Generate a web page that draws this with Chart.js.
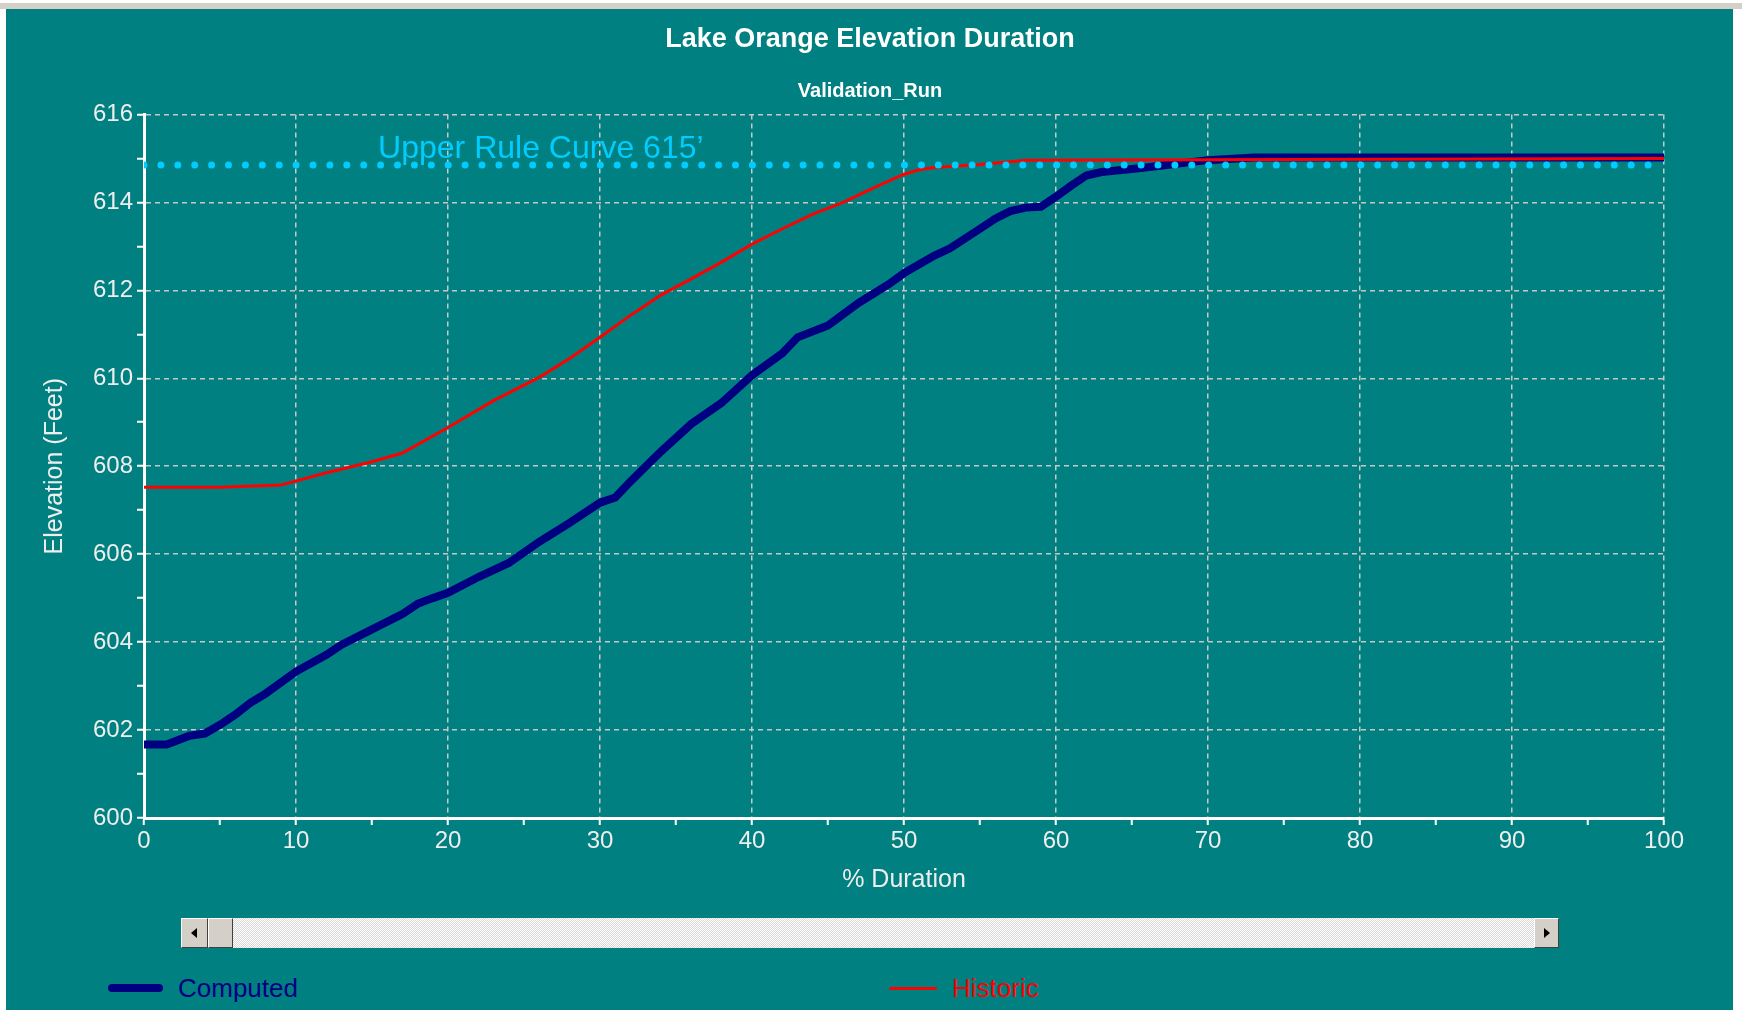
<!DOCTYPE html>
<html>
<head>
<meta charset="utf-8">
<script src="https://cdn.jsdelivr.net/npm/chart.js@4/dist/chart.umd.min.js"></script>
<style>
  body { margin: 0; background: #fff; }
  #frame { position: relative; width: 1742px; height: 1010px; background: #fff; overflow: hidden; font-family: "Liberation Sans", Arial, sans-serif; }
  #topbar { position: absolute; left: 0; top: 3px; width: 1742px; height: 6px; background: #d4d0c8; }
  #panel { position: absolute; left: 6px; top: 9px; width: 1727px; height: 1001px; background: #008080; }
  #wrap { position: absolute; left: 0; top: 0; width: 1742px; height: 910px; }
  #scroll { position: absolute; left: 181px; top: 918px; width: 1378px; height: 30px;
    background-color: #f4f4f4;
    background-image: repeating-conic-gradient(#ffffff 0 25%, #d8d8d8 0 50%);
    background-size: 2px 2px; }
  .btn { position: absolute; top: 0; height: 28px; background: #d4d0c8;
    border-top: 1px solid #fff; border-left: 1px solid #fff; border-right: 1px solid #404040; border-bottom: 1px solid #404040; box-sizing: content-box; }
  .arrow { position: absolute; top: 9px; width: 0; height: 0; border-top: 5px solid transparent; border-bottom: 5px solid transparent; }
  #legend { position: absolute; left: 0; top: 970px; width: 1742px; height: 36px; }
  .item { position: absolute; top: 0; height: 36px; display: flex; align-items: center; font-size: 26px; }
  .sw { display: inline-block; margin-right: 15px; }
</style>
</head>
<body>
<div id="frame">
  <div id="topbar"></div>
  <div id="panel"></div>
  <div id="wrap"><canvas id="duration-chart"></canvas></div>
  <div id="scroll">
    <div class="btn" style="left:0;width:25px;"><div class="arrow" style="left:9px;border-right:6px solid #000;"></div></div>
    <div class="btn" style="left:27px;width:23px;"></div>
    <div class="btn" style="right:0;width:23px;"><div class="arrow" style="left:9px;border-left:6px solid #000;"></div></div>
  </div>
  <div id="legend"></div>
</div>
<script>
// % duration / elevation
var durComputed = [0, 1.5, 3, 4, 5, 6, 7, 8, 10, 12, 13, 15, 17, 18, 19, 20, 22, 24, 26, 28,
  30, 31, 32, 34, 36, 38, 40, 42, 43, 45, 47, 49, 50, 52, 53, 55, 56, 57, 58, 59,
  60, 61, 62, 63, 65, 67, 69, 70, 73, 100];
var elevComputed = [601.67, 601.67, 601.87, 601.92, 602.12, 602.35, 602.62, 602.83, 603.33, 603.71,
  603.94, 604.29, 604.64, 604.87, 605.0, 605.12, 605.48, 605.80, 606.28, 606.71,
  607.17, 607.29, 607.65, 608.33, 608.96, 609.44, 610.07, 610.57, 610.93, 611.2,
  611.71, 612.14, 612.39, 612.79, 612.95, 613.4, 613.63, 613.8, 613.88, 613.9,
  614.13, 614.38, 614.61, 614.69, 614.76, 614.84, 614.92, 614.96, 615.02, 615.02];

var durHistoric = [0, 5, 9, 12, 15, 17, 20, 23, 26, 28, 30, 32, 34, 36, 38, 40, 42, 44, 46, 48,
  50, 51, 52, 55, 58, 100];
var elevHistoric = [607.52, 607.52, 607.57, 607.85, 608.1, 608.3, 608.88, 609.49, 610.02, 610.45,
  610.93, 611.43, 611.89, 612.26, 612.64, 613.05, 613.40, 613.73, 614.0, 614.33,
  614.64, 614.74, 614.79, 614.86, 614.96, 615.0];

var ruleDur = [0, 100];
var ruleElev = [614.85, 614.85];
var ruleText = "Upper Rule Curve 615\u2019";
var ruleTextAt = [15.4, 615.22];

var legendNames = ["Computed", "Historic"];

function pts(xs, ys) {
  return xs.map(function (x, i) { return {x: x, y: ys[i]}; });
}

var ruleLabel = {
  id: 'ruleLabel',
  afterDatasetsDraw: function (chart) {
    var ctx = chart.ctx;
    var x = chart.scales.x.getPixelForValue(ruleTextAt[0]);
    var y = chart.scales.y.getPixelForValue(ruleTextAt[1]);
    ctx.save();
    ctx.font = '32px "Liberation Sans", Arial, sans-serif';
    ctx.fillStyle = '#00ccff';
    ctx.textAlign = 'left';
    ctx.textBaseline = 'middle';
    ctx.fillText(ruleText, x, y);
    ctx.restore();
  }
};

var font = '"Liberation Sans", Arial, sans-serif';
var gridCol = '#c8c8c8';

var chart = new Chart(document.getElementById("duration-chart"), {
  type: 'line',
  data: {
    datasets: [{
      label: legendNames[0],
      data: pts(durComputed, elevComputed),
      borderColor: '#000080',
      backgroundColor: '#000080',
      borderWidth: 8,
      order: 3
    }, {
      label: legendNames[1],
      data: pts(durHistoric, elevHistoric),
      borderColor: '#ff0000',
      backgroundColor: '#ff0000',
      borderWidth: 3,
      order: 2
    }, {
      label: 'Upper Rule Curve',
      data: pts(ruleDur, ruleElev),
      borderColor: '#00ccff',
      borderWidth: 7,
      borderDash: [0, 16.9],
      borderCapStyle: 'round',
      order: 1
    }]
  },
  options: {
    responsive: true,
    maintainAspectRatio: false,
    animation: false,
    elements: { point: { radius: 0 }, line: { tension: 0 } },
    layout: { padding: { left: 76, right: 78, top: 0, bottom: 0 } },
    plugins: {
      legend: { display: false },
      tooltip: { enabled: false },
      title: {
        display: true,
        text: 'Lake Orange Elevation Duration',
        color: '#ffffff',
        font: { family: font, size: 27, weight: 'bold' },
        padding: { top: 23, bottom: 10 }
      },
      subtitle: {
        display: true,
        text: 'Validation_Run',
        color: '#ffffff',
        font: { family: font, size: 20, weight: 'bold' },
        padding: { top: 14, bottom: 11 }
      }
    },
    scales: {
      x: {
        type: 'linear',
        min: 0, max: 100,
        afterFit: function (s) { s.height = 92; },
        ticks: {
          stepSize: 5,
          color: '#eeeeee',
          padding: 2,
          maxRotation: 0,
          autoSkip: false,
          font: { family: font, size: 24 },
          callback: function (v) { return v % 10 === 0 ? v : ''; }
        },
        grid: {
          color: function (c) { return c.tick && c.tick.value % 10 === 0 && c.tick.value !== 0 ? gridCol : 'transparent'; },
          lineWidth: 1.5,
          tickColor: '#ffffff',
          tickLength: 7,
          tickWidth: 2,
          tickBorderDash: []
        },
        border: { display: true, color: '#ffffff', width: 3, dash: [5, 4] },
        title: {
          display: true,
          text: '% Duration',
          color: '#eeeeee',
          font: { family: font, size: 25 },
          padding: { top: 0, bottom: 15 }
        }
      },
      y: {
        min: 600, max: 616,
        afterFit: function (s) { s.width = 68; },
        ticks: {
          stepSize: 1,
          color: '#eeeeee',
          padding: 4,
          autoSkip: false,
          font: { family: font, size: 24 },
          callback: function (v) { return v % 2 === 0 ? v : ''; }
        },
        grid: {
          color: function (c) { return c.tick && c.tick.value % 2 === 0 && c.tick.value !== 600 ? gridCol : 'transparent'; },
          lineWidth: 1.5,
          tickColor: '#ffffff',
          tickLength: 7,
          tickWidth: 2,
          tickBorderDash: []
        },
        border: { display: true, color: '#ffffff', width: 3, dash: [5, 4] },
        title: {
          display: true,
          text: 'Elevation (Feet)',
          color: '#eeeeee',
          font: { family: font, size: 25 },
          padding: { top: -36, bottom: 0 }
        }
      }
    }
  },
  plugins: [ruleLabel]
});

// legend below the scrollbar, built from the datasets
var legendLeft = [108, 889];
var swatchW = [55, 48];
var legendEl = document.getElementById('legend');
[0, 1].forEach(function (i) {
  var ds = chart.data.datasets[i];
  var item = document.createElement('div');
  item.className = 'item';
  item.style.left = legendLeft[i] + 'px';
  item.style.color = ds.borderColor;
  var sw = document.createElement('span');
  sw.className = 'sw';
  sw.style.width = swatchW[i] + 'px';
  sw.style.height = ds.borderWidth + 'px';
  sw.style.background = ds.borderColor;
  sw.style.borderRadius = (ds.borderWidth / 2) + 'px';
  item.appendChild(sw);
  item.appendChild(document.createTextNode(ds.label));
  legendEl.appendChild(item);
});
</script>
</body>
</html>
